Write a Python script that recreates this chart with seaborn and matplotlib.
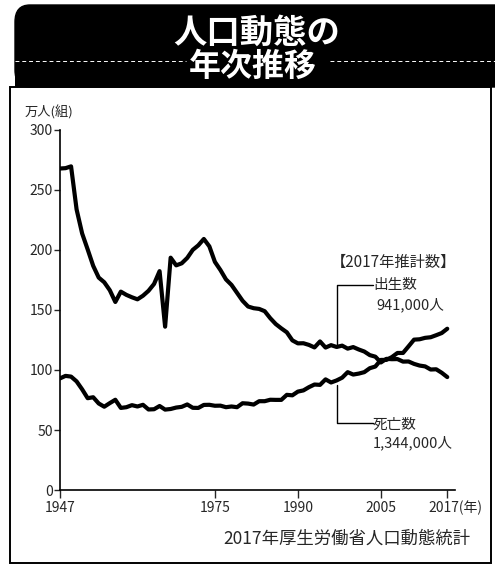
import matplotlib
matplotlib.use("Agg")
import matplotlib.pyplot as plt
import matplotlib.transforms as mtransforms
from matplotlib.patches import FancyBboxPatch, Rectangle
from matplotlib.lines import Line2D
import pandas as pd
import seaborn as sns

# 人口動態統計（万人）
years = list(range(1947, 2018))
births = [
    267.9, 268.2, 269.7, 233.8, 213.8, 200.5, 186.8, 177.0, 173.1, 166.5,
    156.7, 165.3, 162.6, 160.6, 158.9, 161.9, 166.0, 171.7, 182.4, 136.1,
    193.6, 187.2, 188.9, 193.4, 200.1, 203.9, 209.2, 203.0, 190.1, 183.3,
    175.5, 170.9, 164.3, 157.7, 152.9, 151.5, 150.9, 149.0, 143.2, 138.3,
    134.7, 131.4, 124.7, 122.2, 122.3, 120.9, 118.8, 123.8, 118.7, 120.7,
    119.2, 120.3, 117.8, 119.1, 117.1, 115.4, 112.4, 111.1, 106.3, 109.3,
    109.0, 109.1, 107.0, 107.1, 105.1, 103.7, 103.0, 100.4, 100.6, 97.7,
    94.1,
]
deaths = [
    93.0, 95.1, 94.5, 90.5, 83.9, 76.5, 77.3, 72.1, 69.4, 72.4,
    75.2, 68.4, 69.0, 70.7, 69.6, 71.0, 67.1, 67.3, 70.0, 67.0,
    67.5, 68.7, 69.3, 71.3, 68.5, 68.4, 70.9, 71.0, 70.2, 70.3,
    69.0, 69.6, 69.0, 72.3, 72.0, 71.2, 74.0, 74.0, 75.2, 75.1,
    75.1, 79.3, 78.9, 82.0, 83.0, 85.7, 87.9, 87.6, 92.2, 89.6,
    91.3, 93.6, 98.2, 96.2, 97.0, 98.2, 101.5, 102.9, 108.4, 108.4,
    110.8, 114.2, 114.2, 119.7, 125.3, 125.6, 126.8, 127.3, 129.0, 130.8,
    134.4,
]
series_names = ["出生数", "死亡数"]
x_ticks = [1947, 1975, 1990, 2005, 2017]
x_tick_labels = ["1947", "1975", "1990", "2005", "2017(年)"]
y_ticks = [0, 50, 100, 150, 200, 250, 300]

df = pd.DataFrame({
    "年": years * 2,
    "万人": births + deaths,
    "区分": [series_names[0]] * len(years) + [series_names[1]] * len(years),
})

sns.set_style("white")
plt.rcParams["font.family"] = ["Noto Sans CJK JP", "DejaVu Sans"]

W, H = 495, 567
fig = plt.figure(figsize=(W / 100, H / 100), dpi=100)


def fx(px):
    return px / W


def fy(py):
    return 1 - py / H


# header band with a rounded top-left corner
hdr = FancyBboxPatch((fx(15), fy(87)), fx(540), fy(5) - fy(87),
                     boxstyle="round,pad=0,rounding_size=0.03",
                     transform=fig.transFigure, facecolor="black",
                     edgecolor="black", zorder=1)
fig.patches.append(hdr)
fig.patches.append(Rectangle((fx(15), fy(87)), fx(480), fy(45) - fy(87),
                             transform=fig.transFigure, facecolor="black",
                             edgecolor="none", zorder=1))
for x0, x1 in [(15, 186), (330, 495)]:
    fig.lines.append(Line2D([fx(x0), fx(x1)], [fy(61), fy(61)],
                            transform=fig.transFigure, color="white",
                            lw=0.7, ls=(0, (4, 3)), zorder=2))
fig.text(fx(257), fy(33), "人口動態の", color="white", fontsize=24,
         fontweight="bold", ha="center", va="center", zorder=3)
fig.text(fx(253), fy(67), "年次推移", color="white", fontsize=23,
         fontweight="bold", ha="center", va="center", zorder=3)

# outer frame
fig.patches.append(Rectangle((fx(10), fy(563)), fx(481), fy(87) - fy(563),
                             transform=fig.transFigure, facecolor="none",
                             edgecolor="black", lw=1.4, zorder=2))

ax = fig.add_axes([fx(60), fy(490), fx(455) - fx(60), fy(130) - fy(490)])
ax.set_facecolor("none")
sns.lineplot(data=df, x="年", y="万人", hue="区分",
             palette={series_names[0]: "black", series_names[1]: "black"},
             linewidth=3.0, legend=False, ax=ax, solid_joinstyle="round")

ax.set_xlim(1947, 2018.4)
ax.set_ylim(0, 300)
ax.set_xticks(x_ticks)
ax.set_xticklabels(x_tick_labels, fontsize=10)
ax.set_yticks(y_ticks)
ax.set_yticklabels([str(t) for t in y_ticks], fontsize=10)
ax.tick_params(axis="x", direction="out", length=6, width=1, pad=2,
               bottom=True)
ax.tick_params(axis="y", direction="out", length=4, width=1, pad=1,
               left=True)
# the last year label carries the unit, so nudge it to the right
last_lbl = ax.get_xticklabels()[-1]
last_lbl.set_transform(last_lbl.get_transform() +
                       mtransforms.ScaledTranslation(8 / 100, 0,
                                                     fig.dpi_scale_trans))
ax.set_xlabel("")
ax.set_ylabel("")
for s in ["top", "right"]:
    ax.spines[s].set_visible(False)
for s in ["left", "bottom"]:
    ax.spines[s].set_linewidth(1.2)
    ax.spines[s].set_color("black")

fig.text(fx(25), fy(112), "万人(組)", fontsize=9.5, ha="left", va="center")

# 2017年推計数の注記
b17 = births[-1]
d17 = deaths[-1]
lead_year = 1997
b_lead = births[years.index(lead_year)]
d_lead = deaths[years.index(lead_year)]
ax.plot([lead_year, lead_year, 2003.5], [b_lead, 171, 171], color="black",
        lw=1.0)
ax.plot([lead_year, lead_year, 2003.5], [d_lead - 4, 56, 56], color="black",
        lw=1.0)
ax.text(1996.0, 190, "【2017年推計数】", fontsize=11, ha="left",
        va="center")
ax.text(2003.7, 171, series_names[0], fontsize=10.5, ha="left", va="center")
ax.text(2004.2, 154, f"{int(round(b17 * 10000)):,}人", fontsize=10.5,
        ha="left", va="center")
ax.text(2003.5, 54, series_names[1], fontsize=10.5, ha="left", va="center")
ax.text(2003.5, 39, f"{int(round(d17 * 10000)):,}人", fontsize=10.5,
        ha="left", va="center")

fig.text(fx(470), fy(539), "2017年厚生労働省人口動態統計", fontsize=12.5,
         ha="right", va="center")

fig.savefig("out.png", dpi=100, facecolor="white")
